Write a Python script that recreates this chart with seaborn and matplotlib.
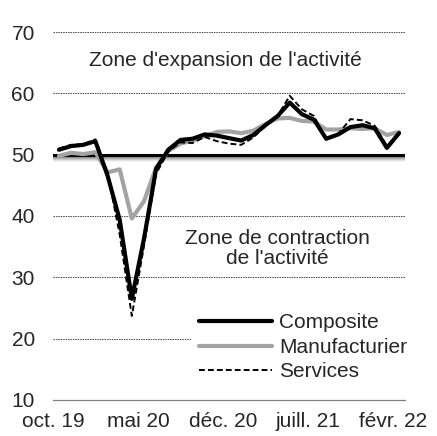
import matplotlib
matplotlib.use("Agg")
import matplotlib.pyplot as plt
import seaborn as sns
import pandas as pd

months = ["oct. 19", "nov. 19", "déc. 19", "janv. 20", "févr. 20", "mars 20", "avr. 20",
          "mai 20", "juin 20", "juil. 20", "août 20", "sept. 20", "oct. 20", "nov. 20",
          "déc. 20", "janv. 21", "févr. 21", "mars 21", "avr. 21", "mai 21", "juin 21",
          "juill. 21", "août 21", "sept. 21", "oct. 21", "nov. 21", "déc. 21", "janv. 22",
          "févr. 22"]
composite = [50.8, 51.4, 51.6, 52.2, 46.6, 39.4, 26.5, 36.3, 47.7, 50.8, 52.4, 52.6, 53.3, 53.1,
             52.7, 52.3, 53.2, 54.8, 56.3, 58.5, 56.6, 55.7, 52.6, 53.3, 54.5, 54.8, 54.3,
             51.1, 53.5]
manufacturier = [49.8, 50.3, 50.1, 50.4, 47.1, 47.6, 39.6, 42.4, 47.9, 50.6, 51.8, 52.3, 53.0,
                 53.7, 53.8, 53.5, 53.9, 55.0, 55.9, 56.0, 55.5, 55.4, 54.1, 54.1, 54.3, 54.2,
                 54.3, 53.2, 53.7]
services = [51.0, 51.6, 51.7, 52.5, 47.1, 37.0, 23.7, 35.1, 46.9, 50.5, 52.0, 51.9, 52.9, 52.2,
            51.8, 51.6, 52.8, 54.7, 56.3, 59.6, 57.4, 56.3, 52.4, 53.4, 55.8, 55.6, 54.7,
            51.4, 53.4]
tick_months = ["oct. 19", "mai 20", "déc. 20", "juill. 21", "févr. 22"]
y_ticks = [10, 20, 30, 40, 50, 60, 70]

sns.set_style("white")
plt.rcParams["font.family"] = ["Liberation Sans", "DejaVu Sans"]
FS = 15

df = pd.DataFrame({"idx": range(len(months)), "Composite": composite,
                   "Manufacturier": manufacturier, "Services": services})

fig = plt.figure(figsize=(4.37, 4.36), dpi=100)
ax = fig.add_axes([0.121, 0.0826, 0.806, 0.844])

# dotted horizontal grid
for y in y_ticks:
    if y in (10, 50):
        continue
    ax.axhline(y, color="#444444", lw=0.7, ls=(0, (1.5, 1)), zorder=1)

# threshold line at 50 with a soft shadow underneath
for k, a in enumerate([0.22, 0.16, 0.11, 0.07, 0.04]):
    ax.axhline(50 - 0.18 * (k + 1), color="black", lw=2.2, alpha=a, zorder=2)
ax.axhline(50, color="black", lw=2.2, zorder=3)

sns.lineplot(data=df, x="idx", y="Manufacturier", ax=ax, color="#a3a3a3", lw=3.0,
             label="Manufacturier", zorder=4)
sns.lineplot(data=df, x="idx", y="Composite", ax=ax, color="black", lw=3.0,
             label="Composite", zorder=5)
sns.lineplot(data=df, x="idx", y="Services", ax=ax, color="black", lw=1.4,
             ls=(0, (3, 1.6)), label="Services", zorder=6)

ax.set_xlim(-0.5, len(months) - 0.5)
ax.set_ylim(10, 70)
ax.set_yticks(y_ticks)
ax.set_yticklabels([str(v) for v in y_ticks], fontsize=FS)
ax.set_xticks([months.index(m) - 0.5 for m in tick_months])
ax.set_xticklabels(tick_months, fontsize=FS)
ax.set_xlabel("")
ax.set_ylabel("")

for s in ("left", "right", "top"):
    ax.spines[s].set_visible(False)
ax.spines["bottom"].set_color("#808080")
ax.spines["bottom"].set_linewidth(0.9)
ax.tick_params(axis="x", direction="in", length=4, color="#808080", pad=9)
ax.tick_params(axis="y", length=0, pad=13)

ax.text(13.67, 65.4, "Zone d'expansion de l'activité", fontsize=FS, ha="center", va="center")
ax.text(17.95, 34.7, "Zone de contraction\nde l'activité", fontsize=FS, ha="center",
        va="center", linespacing=1.12)

handles, labels = ax.get_legend_handles_labels()
order = [labels.index(n) for n in ["Composite", "Manufacturier", "Services"]]
leg = ax.legend([handles[i] for i in order], [labels[i] for i in order],
                loc="upper left", bbox_to_anchor=(0.392, 0.258), borderaxespad=0,
                fontsize=FS, frameon=True, framealpha=1, edgecolor="white",
                facecolor="white", handlelength=3.5, handletextpad=0.35,
                labelspacing=0.26, borderpad=0.4, fancybox=False)
leg.set_zorder(7)

fig.savefig("out.png", dpi=100)
